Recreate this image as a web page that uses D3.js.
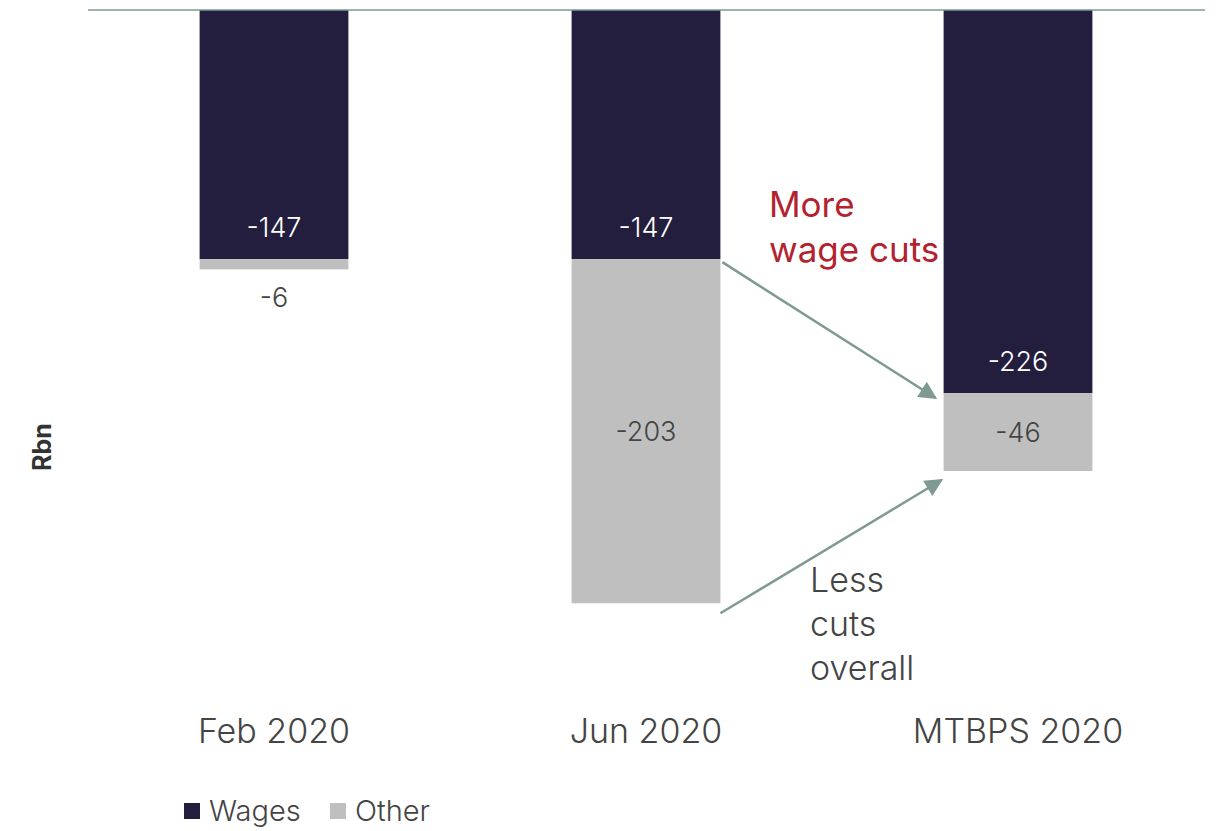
<!DOCTYPE html>
<html lang="en">

<head>
    <meta charset="UTF-8">
    <title>Spending cuts</title>
    <script src="https://d3js.org/d3.v7.min.js"></script>
    <style>
        body {
            margin: 0;
            background: #fff;
        }

        text {
            font-family: Inter, "Open Sans", sans-serif;
            font-weight: 300;
        }
    </style>
</head>

<body>
    <svg width="1216" height="831"></svg>

    <script>
        const categories = ["Feb 2020", "Jun 2020", "MTBPS 2020"];
        const wages = [-147, -147, -226];
        const other = [-6, -203, -46];
        const seriesNames = ["Wages", "Other"];
        const colors = ["#231d3e", "#bfbfbf"];

        const svg = d3.select("svg");

        const x = d3.scaleBand()
            .domain(categories)
            .range([88, 1204])
            .paddingInner(0.6)
            .paddingOuter(0.3);

        const y = d3.scaleLinear()
            .domain([-400, 0])
            .range([688, 10]);

        const rows = categories.map((c, i) => ({ cat: c, Wages: wages[i], Other: other[i] }));
        const stack = d3.stack()
            .keys(seriesNames)
            .offset(d3.stackOffsetDiverging)(rows);

        // bars (negative values: d[0] is the bottom, d[1] the top)
        stack.forEach((s, si) => {
            svg.append("g").selectAll("rect")
                .data(s)
                .join("rect")
                .attr("x", d => x(d.data.cat))
                .attr("width", x.bandwidth())
                .attr("y", d => y(d[1]))
                .attr("height", d => y(d[0]) - y(d[1]))
                .attr("fill", colors[si]);
        });

        // zero line
        svg.append("line")
            .attr("x1", 88).attr("x2", 1205)
            .attr("y1", y(0)).attr("y2", y(0))
            .attr("stroke", "#7f9a92")
            .attr("stroke-width", 1.5);

        // wage labels, inside the end of the bar
        svg.append("g").selectAll("text")
            .data(stack[0])
            .join("text")
            .attr("x", d => x(d.data.cat) + x.bandwidth() / 2)
            .attr("y", d => y(d[0]) - 32)
            .attr("dy", "0.35em")
            .attr("text-anchor", "middle")
            .attr("fill", "#fff")
            .attr("font-size", 27)
            .text(d => d.data.Wages);

        // other labels: centred, or below when the segment is thin
        svg.append("g").selectAll("text")
            .data(stack[1])
            .join("text")
            .attr("x", d => x(d.data.cat) + x.bandwidth() / 2)
            .attr("y", d => (y(d[0]) - y(d[1]) < 40) ? y(d[0]) + 28 : (y(d[0]) + y(d[1])) / 2)
            .attr("dy", "0.35em")
            .attr("text-anchor", "middle")
            .attr("fill", "#444")
            .attr("font-size", 27)
            .text(d => d.data.Other);

        // category labels
        svg.append("g").selectAll("text")
            .data(categories)
            .join("text")
            .attr("x", d => x(d) + x.bandwidth() / 2)
            .attr("y", 731)
            .attr("dy", "0.35em")
            .attr("text-anchor", "middle")
            .attr("fill", "#444")
            .attr("font-size", 34)
            .text(d => d);

        // y axis title
        svg.append("text")
            .attr("transform", "translate(42,447) rotate(-90)")
            .attr("dy", "0.35em")
            .attr("text-anchor", "middle")
            .attr("fill", "#333")
            .attr("font-size", 25)
            .style("font-weight", 700)
            .text("Rbn");

        // arrows
        svg.append("defs").append("marker")
            .attr("id", "head")
            .attr("viewBox", "0 0 10 10")
            .attr("refX", 9).attr("refY", 5)
            .attr("markerUnits", "userSpaceOnUse")
            .attr("orient", "auto")
            .attr("markerWidth", 22).attr("markerHeight", 18)
            .append("path")
            .attr("d", "M0,0L10,5L0,10Z")
            .attr("fill", "#7f9a92");

        const jun = x("Jun 2020") + x.bandwidth();
        const mt = x("MTBPS 2020");
        const arrows = [
            [jun + 2, y(-147) + 3, mt - 8, y(-226) + 5],
            [jun, y(-350) + 10, mt - 2, y(-272) + 9]
        ];
        svg.append("g").selectAll("line")
            .data(arrows)
            .join("line")
            .attr("x1", d => d[0]).attr("y1", d => d[1])
            .attr("x2", d => d[2]).attr("y2", d => d[3])
            .attr("stroke", "#7f9a92")
            .attr("stroke-width", 2.5)
            .attr("marker-end", "url(#head)");

        // annotations
        const more = svg.append("text")
            .attr("fill", "#b3222f")
            .attr("font-size", 35)
            .style("font-weight", 400);
        more.append("tspan").attr("x", 769).attr("y", 217).text("More");
        more.append("tspan").attr("x", 769).attr("y", 262).text("wage cuts");

        const less = svg.append("text")
            .attr("fill", "#444")
            .attr("font-size", 34);
        ["Less", "cuts", "overall"].forEach((t, i) => {
            less.append("tspan").attr("x", 810).attr("y", 592 + i * 44).text(t);
        });

        // legend
        const leg = svg.append("g").attr("transform", "translate(184,811)");
        let lx = 0;
        seriesNames.forEach((n, i) => {
            const g = leg.append("g").attr("transform", `translate(${lx},0)`);
            g.append("rect")
                .attr("x", 0).attr("y", -8)
                .attr("width", 16).attr("height", 16)
                .attr("fill", colors[i]);
            g.append("text")
                .attr("x", 25)
                .attr("dy", "0.35em")
                .attr("fill", "#444")
                .attr("font-size", 29)
                .text(n);
            lx += 146;
        });
    </script>
</body>

</html>
